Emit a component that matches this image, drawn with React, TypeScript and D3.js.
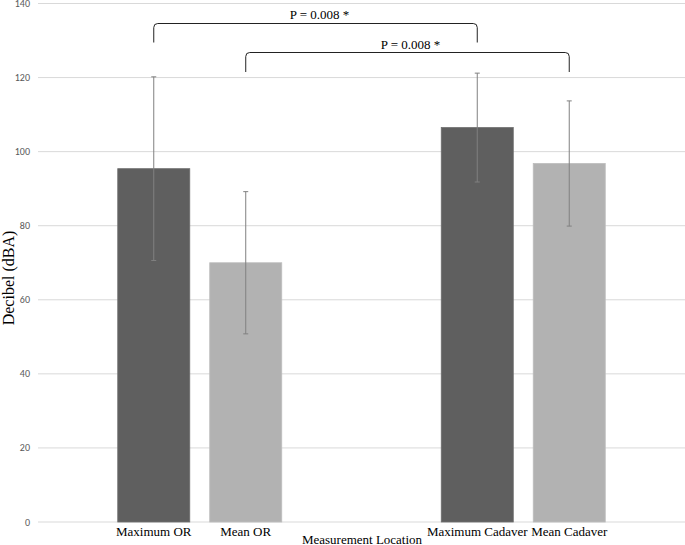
import React from "react";
import * as d3 from "d3";

const groups = ["OR", "Cadaver"];
const seriesNames = ["Maximum", "Mean"];
const categoryLabels = ["Maximum OR", "Mean OR", "Maximum Cadaver", "Mean Cadaver"];
const maxValues = [95.4, 106.5];
const maxErrors = [24.8, 14.7];
const meanValues = [70.0, 96.8];
const meanErrors = [19.2, 16.9];
const yTicks = [0, 20, 40, 60, 80, 100, 120, 140];
const pLabels = ["P = 0.008 *", "P = 0.008 *"];

const W = 685;
const H = 545;
const left = 38;
const right = 685;
const top = 3.5;
const bottom = 522;
const serif = "'Liberation Serif', 'Times New Roman', serif";

export default function App() {
  const y = d3.scaleLinear().domain([0, 140]).range([bottom, top]);
  const x0 = d3.scaleBand<string>().domain(groups).range([left, right]).paddingInner(0).paddingOuter(0);
  const x1 = d3.scaleBand<string>().domain(seriesNames).range([0, x0.bandwidth()]).paddingInner(0.217).paddingOuter(0.867);

  const bars: { cx: number; x: number; w: number; v: number; e: number; color: string; label: string }[] = [];
  groups.forEach((g, gi) => {
    seriesNames.forEach((s, si) => {
      const x = (x0(g) as number) + (x1(s) as number);
      const w = x1.bandwidth();
      bars.push({
        cx: x + w / 2,
        x,
        w,
        v: si === 0 ? maxValues[gi] : meanValues[gi],
        e: si === 0 ? maxErrors[gi] : meanErrors[gi],
        color: si === 0 ? "#5f5f5f" : "#b2b2b2",
        label: categoryLabels[gi * 2 + si],
      });
    });
  });

  const bracket = (xa: number, xb: number, yTop: number, yEnd: number) => {
    const r = 4;
    return `M${xa},${yEnd} L${xa},${yTop + r} Q${xa},${yTop} ${xa + r},${yTop} L${xb - r},${yTop} Q${xb},${yTop} ${xb},${yTop + r} L${xb},${yEnd}`;
  };

  const b1 = { a: bars[0].cx, b: bars[2].cx, yTop: 23.5, yEnd: 42.5 };
  const b2 = { a: bars[1].cx, b: bars[3].cx, yTop: 52.5, yEnd: 72 };

  return (
    <svg width={W} height={H} style={{ position: "absolute", left: 0, top: 0, background: "#fff" }}>
      {yTicks.map((t) => (
        <g key={t}>
          <line x1={left} x2={right} y1={y(t)} y2={y(t)} stroke="#d9d9d9" strokeWidth={1} />
          <text x={30} y={y(t)} dy="0.35em" textAnchor="end" fontFamily="Carlito, 'Liberation Sans', sans-serif" fontSize={10} fill="#595959">
            {t}
          </text>
        </g>
      ))}
      {bars.map((b, i) => (
        <g key={i}>
          <rect x={b.x} y={y(b.v)} width={b.w} height={y(0) - y(b.v)} fill={b.color} stroke={i % 2 === 0 ? "#6e6e6e" : "#bdbdbd"} strokeWidth={0.8} />
          <line x1={b.cx} x2={b.cx} y1={y(b.v + b.e)} y2={y(b.v - b.e)} stroke="#808080" strokeWidth={1} />
          <line x1={b.cx - 2.5} x2={b.cx + 2.5} y1={y(b.v + b.e)} y2={y(b.v + b.e)} stroke="#808080" strokeWidth={1} />
          <line x1={b.cx - 2.5} x2={b.cx + 2.5} y1={y(b.v - b.e)} y2={y(b.v - b.e)} stroke="#808080" strokeWidth={1} />
          <text x={b.cx} y={536} textAnchor="middle" fontFamily={serif} fontSize={13} fill="#000">
            {b.label}
          </text>
        </g>
      ))}
      <path d={bracket(b1.a, b1.b, b1.yTop, b1.yEnd)} fill="none" stroke="#222" strokeWidth={1} />
      <path d={bracket(b2.a, b2.b, b2.yTop, b2.yEnd)} fill="none" stroke="#222" strokeWidth={1} />
      <text x={(b1.a + b1.b) / 2 + 4} y={19} textAnchor="middle" fontFamily={serif} fontSize={13} fill="#000">
        {pLabels[0]}
      </text>
      <text x={(b2.a + b2.b) / 2 + 3} y={48.5} textAnchor="middle" fontFamily={serif} fontSize={13} fill="#000">
        {pLabels[1]}
      </text>
      <text x={362} y={544} textAnchor="middle" fontFamily={serif} fontSize={13} fill="#000">
        Measurement Location
      </text>
      <text transform={`translate(14,278) rotate(-90)`} textAnchor="middle" fontFamily={serif} fontSize={16} fill="#000">
        Decibel (dBA)
      </text>
    </svg>
  );
}
